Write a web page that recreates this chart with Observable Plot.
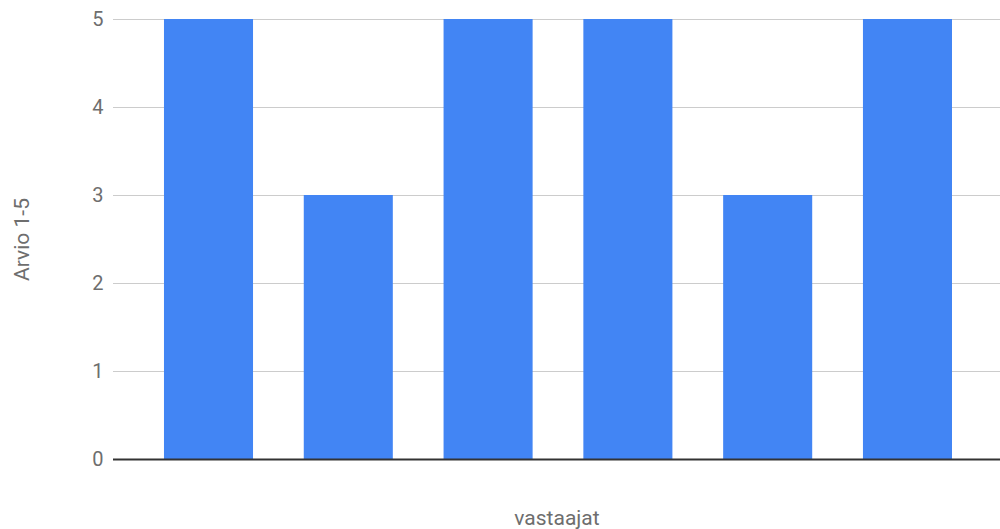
<!DOCTYPE html>
<html><head><meta charset="utf-8">
<script src="https://cdn.jsdelivr.net/npm/d3@7"></script>
<script src="https://cdn.jsdelivr.net/npm/@observablehq/plot@0.6"></script>
<style>
body{margin:0;background:#fff;}
svg{font-family:Roboto,sans-serif;}
</style></head>
<body><div id="chart"></div>
<script>
const respondents = ["1","2","3","4","5","6"];
const ratings = [5,3,5,5,3,5];
const yTicks = [0,1,2,3,4,5];
const xLabel = "vastaajat";
const yLabel = "Arvio 1-5";

const data = respondents.map((r,i)=>({r, v: ratings[i]}));

const chart = Plot.plot({
  width: 1000, height: 529,
  marginLeft: 113, marginRight: 0, marginTop: 19, marginBottom: 70,
  style: {fontFamily: "Roboto, sans-serif", fontSize: "20px", color: "#6e6e6e", background: "#fff"},
  x: {domain: respondents, paddingInner: 0.363, paddingOuter: 0.354, align: 0.515, round: false, axis: null},
  y: {domain: [0,5], ticks: yTicks, axis: null},
  marks: [
    Plot.gridY(yTicks.filter(t=>t>0), {stroke: "#cccccc", strokeOpacity: 1, strokeWidth: 1}),
    Plot.axisY(yTicks, {tickSize: 0, tickPadding: 10, tickFormat: "d", fill: "#6e6e6e", fontSize: 20, label: null}),
    Plot.barY(data, {x: "r", y: "v", fill: "#4285F4"}),
    Plot.ruleY([0], {stroke: "#333333", strokeWidth: 2}),
    Plot.text([xLabel], {frameAnchor: "bottom", dy: 65, fill: "#6e6e6e", fontSize: 21}),
    Plot.text([yLabel], {frameAnchor: "left", textAnchor: "middle", dx: -91, rotate: -90, fill: "#6e6e6e", fontSize: 21})
  ]
});
document.getElementById("chart").appendChild(chart);
</script></body></html>
